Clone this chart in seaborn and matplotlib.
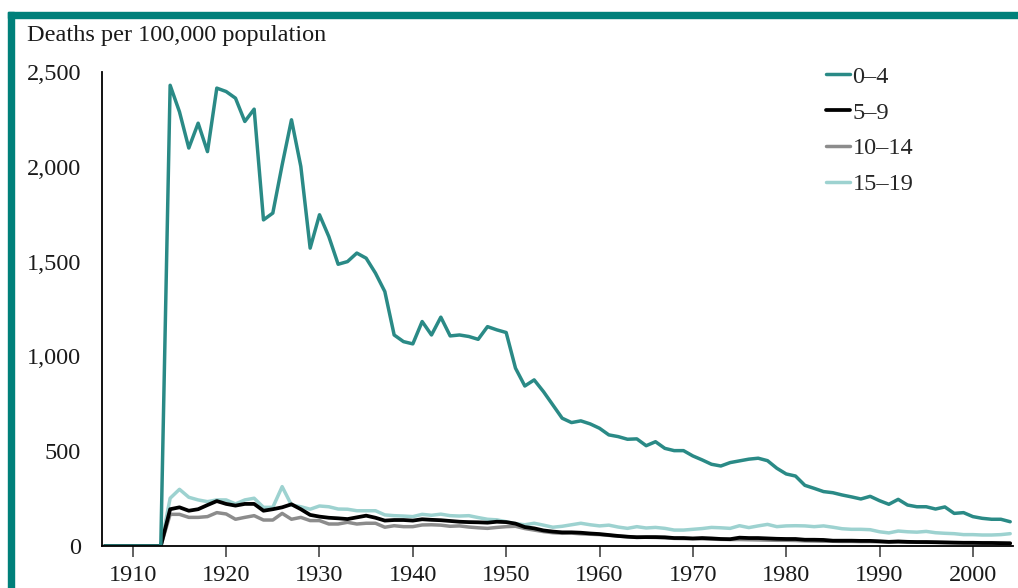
import numpy as np
import pandas as pd
import seaborn as sns
import matplotlib.pyplot as plt
from matplotlib.patches import Rectangle

years = list(range(1907, 2005))

# deaths per 100,000 by age group
age_0_4 = [0, 0, 0, 0, 0, 0, 0,
           2430, 2290, 2099, 2230, 2080, 2415, 2397, 2362, 2239, 2304,
           1720, 1756, 2010, 2248, 2002, 1571, 1747, 1632, 1486, 1500,
           1545, 1518, 1439, 1342, 1113, 1078, 1066, 1184, 1113, 1207,
           1108, 1113, 1105, 1090, 1157, 1140, 1126, 938, 844, 876,
           814, 744, 674, 651, 660, 644, 621, 586, 577, 563,
           565, 529, 550, 515, 503, 503, 475, 454, 431, 422,
           440, 449, 458, 463, 450, 410, 380, 369, 320, 304,
           287, 281, 269, 259, 248, 262, 239, 220, 246, 216,
           207, 207, 195, 206, 172, 176, 155, 146, 141, 141, 128]
age_5_9 = [0, 0, 0, 0, 0, 0, 0,
           194, 204, 186, 194, 216, 237, 222, 213, 222, 222,
           186, 194, 204, 220, 194, 164, 155, 149, 146, 142,
           151, 160, 149, 134, 137, 137, 134, 141, 138, 136,
           132, 128, 126, 125, 123, 128, 126, 118, 100, 93,
           82, 76, 72, 72, 70, 66, 63, 58, 53, 49,
           46, 47, 47, 46, 42, 42, 40, 42, 40, 37,
           36, 44, 42, 42, 40, 38, 37, 37, 33, 33,
           32, 28, 28, 28, 27, 27, 25, 22, 24, 22,
           21, 21, 20, 19, 18, 17, 17, 16, 16, 15, 14]
age_10_14 = [0, 0, 0, 0, 0, 0, 0,
             167, 167, 151, 151, 155, 176, 169, 141, 151, 160,
             137, 137, 172, 141, 151, 134, 134, 116, 116, 125,
             116, 120, 120, 99, 107, 102, 102, 111, 112, 110,
             104, 106, 100, 96, 93, 98, 102, 104, 92, 84,
             76, 70, 67, 68, 64, 62, 60, 56, 52, 49,
             47, 46, 45, 43, 40, 39, 38, 38, 36, 35,
             34, 34, 33, 32, 31, 30, 30, 29, 27, 26,
             25, 25, 24, 24, 23, 23, 22, 21, 21, 20,
             20, 19, 19, 18, 17, 17, 16, 16, 15, 15, 15]
age_15_19 = [0, 0, 0, 0, 0, 0, 0,
             252, 299, 257, 243, 234, 243, 243, 222, 243, 252,
             204, 204, 313, 216, 207, 194, 211, 207, 195, 194,
             186, 186, 186, 164, 160, 158, 155, 167, 162, 168,
             160, 158, 160, 150, 141, 138, 128, 118, 112, 120,
             110, 99, 104, 112, 120, 112, 106, 110, 100, 93,
             102, 95, 98, 93, 84, 84, 88, 92, 98, 96,
             93, 107, 97, 106, 114, 102, 106, 107, 106, 102,
             106, 99, 91, 88, 88, 86, 75, 69, 79, 75,
             73, 77, 70, 67, 65, 60, 60, 58, 58, 60, 65]

groups = ["0\u20134", "5\u20139", "10\u201314", "15\u201319"]
colors = ["#2a8a86", "#000000", "#8c8c8c", "#9dd2d0"]

df = pd.DataFrame({"year": years, groups[0]: age_0_4, groups[1]: age_5_9,
                   groups[2]: age_10_14, groups[3]: age_15_19})
long = df.melt(id_vars="year", var_name="age", value_name="rate")

sns.set_style("white")
plt.rcParams["font.family"] = ["Liberation Serif", "DejaVu Serif"]
fs = 17.5

fig = plt.figure(figsize=(10.18, 5.88), dpi=100)
ax = fig.add_axes([102 / 1018, 1 - 546 / 588, 911 / 1018, 474 / 588])

# draw the light ones first so the teal and black sit on top
order = [groups[3], groups[2], groups[1], groups[0]]
for g in order:
    i = groups.index(g)
    sns.lineplot(data=long[long["age"] == g], x="year", y="rate", ax=ax,
                 color=colors[i], lw=2.7 if g == groups[1] else 2.5,
                 label=g, legend=False)

ax.set_xlim(1906.7, 2004.3)
ax.set_ylim(0, 2500)
ax.set_yticks([0, 500, 1000, 1500, 2000, 2500])
ax.set_yticklabels(["0", "500", "1,000", "1,500", "2,000", "2,500"])
ax.set_xticks(range(1910, 2001, 10))
ax.set_xlabel("")
ax.set_ylabel("")
for s in ["top", "right"]:
    ax.spines[s].set_visible(False)
for s in ["left", "bottom"]:
    ax.spines[s].set_color("black")
    ax.spines[s].set_linewidth(1.3)
ax.tick_params(axis="y", length=0, pad=15, labelsize=fs, colors="#1a1a1a")
ax.tick_params(axis="x", length=8, width=1.3, color="#555555", pad=6,
               labelsize=fs, labelcolor="#1a1a1a", direction="out", bottom=True)

handles = {l.get_label(): l for l in ax.get_lines()}
leg = ax.legend([handles[g] for g in groups], groups, loc="upper left",
                bbox_to_anchor=(816 / 1018, 1 - 56 / 588), bbox_transform=fig.transFigure,
                frameon=False, fontsize=fs, handlelength=1.0, handletextpad=0.1,
                labelspacing=0.57, borderaxespad=0)

fig.text(27 / 1018, 1 - 36 / 588, "Deaths per 100,000 population", fontsize=fs,
         va="center", ha="left", color="#1a1a1a")

# teal frame on top and left
frame = "#00807a"
fig.patches.append(Rectangle((8 / 1018, 1 - 18 / 588), 1 - 8 / 1018, 6 / 588,
                             transform=fig.transFigure, color=frame, zorder=0))
fig.patches.append(Rectangle((8 / 1018, 0), 6 / 1018, 1 - 12 / 588,
                             transform=fig.transFigure, color=frame, zorder=0))

fig.savefig("out.png", dpi=100)
